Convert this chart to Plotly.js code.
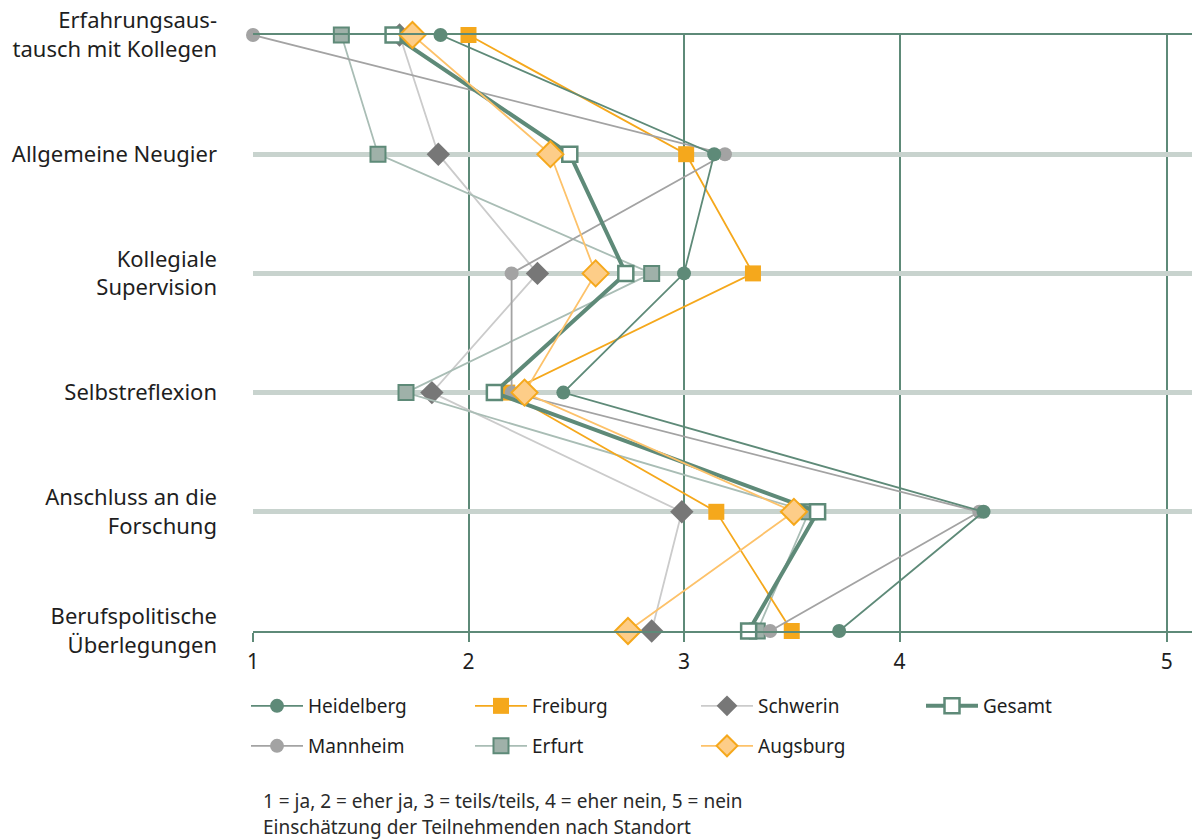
<!DOCTYPE html>
<html>
<head>
<meta charset="utf-8">
<script src="https://cdn.plot.ly/plotly-3.0.1.min.js"></script>
<style>
  html, body { margin: 0; padding: 0; background: #ffffff; }
  #chart { width: 1192px; height: 839px; }
</style>
</head>
<body>
<div id="chart"></div>
<script>
// ---- data ----
const categories = [
  "Erfahrungsaus-<br>tausch mit Kollegen",
  "Allgemeine Neugier",
  "Kollegiale<br>Supervision",
  "Selbstreflexion",
  "Anschluss an die<br>Forschung",
  "Berufspolitische<br>Überlegungen"
];
const heidelberg = [1.87, 3.14, 3.00, 2.44, 4.39, 3.72];
const freiburg   = [2.00, 3.01, 3.32, 2.18, 3.15, 3.50];
const schwerin   = [1.68, 1.86, 2.32, 1.83, 2.99, 2.85];
const gesamt     = [1.65, 2.47, 2.73, 2.12, 3.62, 3.30];
const mannheim   = [1.00, 3.19, 2.20, 2.20, 4.37, 3.40];
const erfurt     = [1.41, 1.58, 2.85, 1.71, 3.58, 3.34];
const augsburg   = [1.74, 2.38, 2.59, 2.26, 3.51, 2.74];
const xTickLabels = ["1", "2", "3", "4", "5"];
const xTickVals = [1, 2, 3, 4, 5.24];
const noteLine1 = "1 = ja, 2 = eher ja, 3 = teils/teils, 4 = eher nein, 5 = nein";
const noteLine2 = "Einschätzung der Teilnehmenden nach Standort";

// ---- styles ----
const GREEN = "#5e8a78";
const ORANGE = "#f5a81c";
const FONT = "Noto Sans, sans-serif";
const TEXT = "#1e1e1e";

function tr(name, values, lineColor, lineWidth, marker, legendId) {
  return {
    type: "scatter", mode: "lines+markers", name: name,
    x: values, y: categories,
    line: { color: lineColor, width: lineWidth },
    marker: marker,
    cliponaxis: false,
    legend: legendId,
    hoverinfo: "x+name"
  };
}

const traces = [
  tr("Schwerin", schwerin, "#cbcbcb", 1.8, { symbol: "diamond", size: 18, color: "#777777" }, "legend3"),
  tr("Erfurt", erfurt, "#a9bdb5", 1.8, { symbol: "square", size: 15, color: "#9fb1a9", line: { color: GREEN, width: 2 } }, "legend6"),
  tr("Freiburg", freiburg, ORANGE, 1.8, { symbol: "square", size: 16, color: ORANGE }, "legend2"),
  tr("Mannheim", mannheim, "#a3a3a3", 1.8, { symbol: "circle", size: 14, color: "#a3a3a3" }, "legend5"),
  tr("Heidelberg", heidelberg, GREEN, 1.8, { symbol: "circle", size: 14, color: GREEN }, "legend"),
  tr("Gesamt", gesamt, GREEN, 4, { symbol: "square", size: 15, color: "#ffffff", line: { color: GREEN, width: 2.5 } }, "legend4"),
  tr("Augsburg", augsburg, "#fdc26a", 1.8, { symbol: "diamond", size: 20, color: "#fdcd88", line: { color: ORANGE, width: 2 } }, "legend7")
];

function leg(xpx, ypx) {
  return {
    x: xpx / 1192, y: 1 - ypx / 839, xref: "container", yref: "container",
    xanchor: "left", yanchor: "middle",
    bgcolor: "rgba(0,0,0,0)", borderwidth: 0,
    font: { family: FONT, size: 19, color: TEXT },
    itemwidth: 52, itemclick: false, itemdoubleclick: false
  };
}

const layout = {
  width: 1192, height: 839,
  margin: { l: 253, r: 0, t: 35, b: 208, autoexpand: false },
  paper_bgcolor: "#ffffff", plot_bgcolor: "#ffffff",
  font: { family: FONT, size: 20, color: TEXT },
  showlegend: true,
  legend: leg(246, 706),
  legend2: leg(470, 706),
  legend3: leg(696, 706),
  legend4: leg(921, 706),
  legend5: leg(246, 746),
  legend6: leg(470, 746),
  legend7: leg(696, 746),
  xaxis: {
    range: [1, 1 + 939 / 215.5],
    tickvals: xTickVals, ticktext: xTickLabels,
    showgrid: true, gridcolor: GREEN, gridwidth: 2,
    showline: true, linecolor: GREEN, linewidth: 2, mirror: true,
    ticks: "outside", ticklen: 9, tickwidth: 2, tickcolor: GREEN,
    ticklabelstandoff: 2,
    tickfont: { family: FONT, size: 21, color: TEXT },
    zeroline: false, fixedrange: true
  },
  yaxis: {
    type: "category",
    categoryorder: "array", categoryarray: categories,
    range: [5, 0],
    showgrid: true, gridcolor: "#c8d3ce", gridwidth: 5,
    showline: false, zeroline: false,
    ticks: "", ticklabelstandoff: 35,
    tickfont: { family: FONT, size: 22, color: TEXT },
    fixedrange: true
  },
  annotations: [
    { text: noteLine1, xref: "paper", yref: "paper", x: 8 / 939, y: -(801 - 631) / 596,
      xanchor: "left", yanchor: "middle", showarrow: false,
      font: { family: FONT, size: 19, color: "#2a2a2a" } },
    { text: noteLine2, xref: "paper", yref: "paper", x: 8 / 939, y: -(827 - 631) / 596,
      xanchor: "left", yanchor: "middle", showarrow: false,
      font: { family: FONT, size: 19, color: "#2a2a2a" } }
  ]
};

Plotly.newPlot("chart", traces, layout, { displayModeBar: false, staticPlot: false });
</script>
</body>
</html>
